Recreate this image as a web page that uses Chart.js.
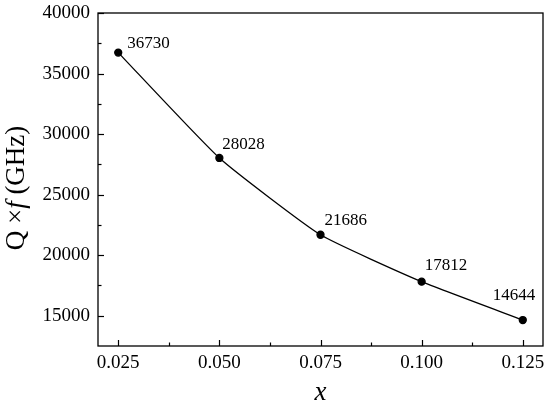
<!DOCTYPE html>
<html><head><meta charset="utf-8">
<script src="https://cdn.jsdelivr.net/npm/chart.js@4/dist/chart.umd.min.js"></script>
<style>html,body{margin:0;padding:0;background:#fff}#w{width:550px;height:409px}</style>
</head><body><div id="w"><canvas id="c"></canvas></div>
<script>
const xValues = [0.025, 0.050, 0.075, 0.100, 0.125];
const qfValues = [36730, 28028, 21686, 17812, 14644];
const xTickLabels = ['0.025', '0.050', '0.075', '0.100', '0.125'];
const yTickLabels = ['15000', '20000', '25000', '30000', '35000', '40000'];
// label offsets (style): [dx, dy] from point
const labelOffsets = [[9, -9], [3, -13], [4, -14], [3, -16], [-30, -25]];

const FONT = "'Liberation Serif','Times New Roman',serif";

const framePlugin = {
  id: 'frame',
  afterDatasetsDraw(chart) {
    const {ctx, chartArea: a, scales: {x, y}} = chart;
    ctx.save();
    ctx.strokeStyle = '#000';
    ctx.lineWidth = 1.3;
    ctx.strokeRect(a.left, a.top, a.right - a.left, a.bottom - a.top);
    ctx.lineWidth = 1.2;
    for (let v = 0.025; v <= 0.1251; v += 0.0125) {
      const px = Math.round(x.getPixelForValue(v)) + 0.5;
      const major = Math.abs((v / 0.025) - Math.round(v / 0.025)) < 1e-6;
      const len = major ? 6 : 3.5;
      ctx.beginPath();
      ctx.moveTo(px, a.bottom); ctx.lineTo(px, a.bottom - len); ctx.stroke();
    }
    for (let v = 15000; v <= 40000; v += 2500) {
      const py = Math.round(y.getPixelForValue(v)) + 0.5;
      const major = v % 5000 === 0;
      const len = major ? 6 : 3.5;
      ctx.beginPath();
      ctx.moveTo(a.left, py); ctx.lineTo(a.left + len, py); ctx.stroke();
    }
    const meta = chart.getDatasetMeta(0);
    ctx.fillStyle = '#000';
    ctx.font = '17px ' + FONT;
    ctx.textAlign = 'left';
    ctx.textBaseline = 'middle';
    meta.data.forEach((pt, i) => {
      const [dx, dy] = labelOffsets[i];
      ctx.fillText(String(qfValues[i]), pt.x + dx, pt.y + dy);
    });
    ctx.translate(17, 188);
    ctx.rotate(-Math.PI / 2);
    ctx.textBaseline = 'middle';
    const parts = [['Q \u00D7', '27px ' + FONT], ['f', 'italic 27px ' + FONT], [' (GHz)', '27px ' + FONT]];
    let total = 0;
    parts.forEach(p => { ctx.font = p[1]; total += ctx.measureText(p[0]).width; });
    let cx = -total / 2;
    parts.forEach(p => { ctx.font = p[1]; ctx.fillText(p[0], cx, 0); cx += ctx.measureText(p[0]).width; });
    ctx.restore();
  }
};

new Chart(document.getElementById('c'), {
  type: 'line',
  data: {
    datasets: [{
      data: xValues.map((v, i) => ({x: v, y: qfValues[i]})),
      borderColor: '#000',
      backgroundColor: '#000',
      borderWidth: 1.3,
      pointRadius: 3.5,
      pointHoverRadius: 3.5,
      tension: 0.15,
      fill: false
    }]
  },
  options: {
    responsive: true,
    maintainAspectRatio: false,
    animation: false,
    events: [],
    layout: {padding: {top: 13, right: 7, left: 0, bottom: 0}},
    plugins: {legend: {display: false}, tooltip: {enabled: false}},
    scales: {
      x: {
        type: 'linear', min: 0.02, max: 0.13,
        afterBuildTicks(s) { s.ticks = xValues.map(v => ({value: v})); },
        ticks: {
          callback: (v, i) => xTickLabels[i],
          color: '#000', font: {family: FONT, size: 19}, padding: 6, maxRotation: 0
        },
        grid: {display: false, drawTicks: false},
        border: {display: false},
        title: {display: true, text: 'x', color: '#000', font: {family: FONT, size: 27, style: 'italic'}, padding: {top: 6, bottom: 0}},
        afterFit(s) { s.height = 63; s.paddingLeft = 0; s.paddingRight = 0; }
      },
      y: {
        type: 'linear', min: 12500, max: 40000,
        afterBuildTicks(s) { s.ticks = yTickLabels.map(v => ({value: Number(v)})); },
        ticks: {
          callback: (v, i) => yTickLabels[i],
          color: '#000', font: {family: FONT, size: 19}, padding: 8
        },
        grid: {display: false, drawTicks: false},
        border: {display: false},
        afterFit(s) { s.width = 98; s.paddingTop = 0; s.paddingBottom = 0; }
      }
    }
  },
  plugins: [framePlugin]
});
</script></body></html>
